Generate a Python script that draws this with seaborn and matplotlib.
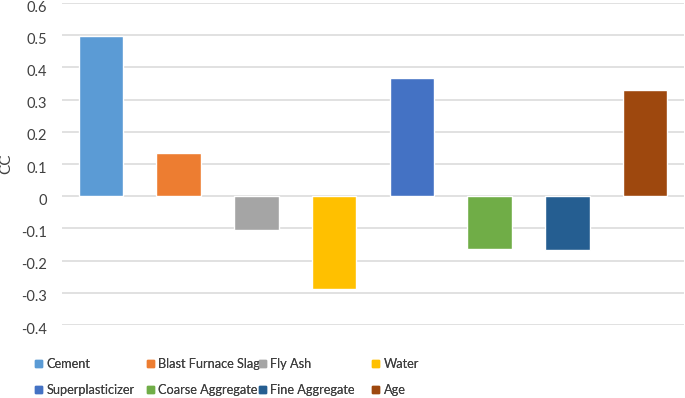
import seaborn as sns
import matplotlib.pyplot as plt
from matplotlib.patches import Patch
from matplotlib.transforms import ScaledTranslation
import pandas as pd

factors = ['Cement', 'Blast Furnace Slag', 'Fly Ash', 'Water',
           'Superplasticizer', 'Coarse Aggregate', 'Fine Aggregate', 'Age']
cc = [0.4978, 0.1348, -0.1058, -0.2896, 0.3661, -0.1649, -0.1672, 0.3289]
colors = ['#5B9BD5', '#ED7D31', '#A5A5A5', '#FFC000',
          '#4472C4', '#70AD47', '#255E91', '#9E480E']
yticks = [-0.4, -0.3, -0.2, -0.1, 0, 0.1, 0.2, 0.3, 0.4, 0.5, 0.6]

TEXT = '#404040'
sns.set_theme(style='white')
plt.rcParams['font.family'] = ['Lato', 'DejaVu Sans']

df = pd.DataFrame({'Factor': factors, 'CC': cc})

fig = plt.figure(figsize=(6.85, 3.98), dpi=100)
ax = fig.add_axes([62 / 685, 1 - 325 / 398, 622 / 685, 322 / 398])

sns.barplot(data=df, x='Factor', y='CC', hue='Factor', palette=colors,
            saturation=1, width=0.57, legend=False, ax=ax, zorder=3)

ax.set_ylim(-0.4, 0.6)
ax.set_yticks(yticks)
ax.set_yticklabels(['0' if t == 0 else f'{t:g}' for t in yticks])
ax.grid(axis='y', color='#D9D9D9', lw=1.1, zorder=0)
for sp in ax.spines.values():
    sp.set_visible(False)
ax.set_xticks([])
ax.set_xlabel('')
ax.set_ylabel('CC', fontsize=11, color=TEXT)
ax.yaxis.set_label_coords(-0.078, 0.5)
ax.tick_params(axis='y', length=0, pad=11, labelsize=10.5, labelcolor=TEXT)
# Excel draws the value labels a few pixels below their gridlines
shift = ScaledTranslation(0, -3 / 100, fig.dpi_scale_trans)
for lbl in ax.get_yticklabels():
    lbl.set_transform(lbl.get_transform() + shift)

# legend: four columns of two rows, placed like the Excel legend
cols = [(0, 4), (1, 5), (2, 6), (3, 7)]
xs = [35, 147, 259, 372]
for (a, b), x in zip(cols, xs):
    handles = [Patch(color=colors[a]), Patch(color=colors[b])]
    lg = fig.legend(handles, [factors[a], factors[b]], loc='upper left',
                    bbox_to_anchor=(x / 685, 1 - 358 / 398), frameon=False,
                    fontsize=9.2, handlelength=0.55, handleheight=0.55,
                    handletextpad=0.35, labelspacing=1.1, borderpad=0,
                    borderaxespad=0, labelcolor=TEXT)
    fig.add_artist(lg)

fig.savefig('out.png', dpi=100)
